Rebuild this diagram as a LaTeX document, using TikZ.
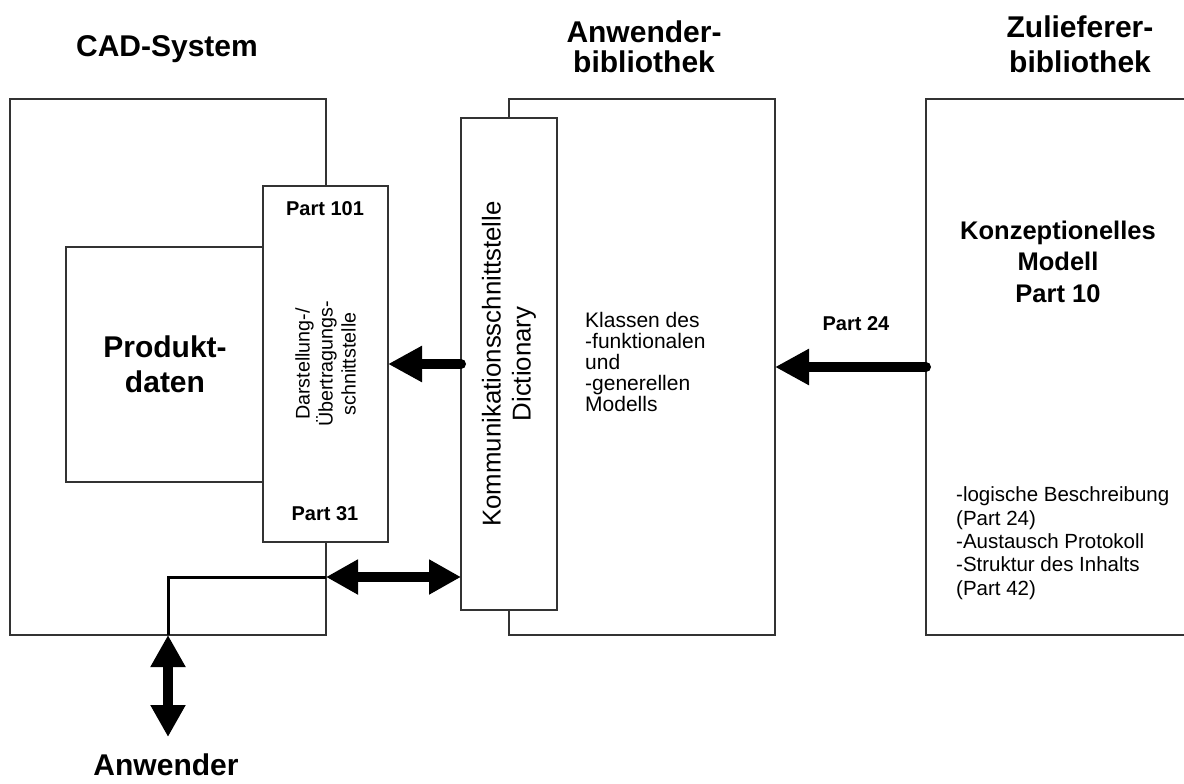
\documentclass[tikz,border=0pt]{standalone}
\usepackage{fontspec}
\setmainfont{Liberation Sans}
\usetikzlibrary{arrows.meta}
\begin{document}
\begin{tikzpicture}[x=1pt,y=-1pt,
  box/.style={draw=black!80, line width=1.3pt, fill=white, rectangle, outer sep=0pt, inner sep=0pt},
  fatarrow/.style={line width=10pt, line cap=round, -{Triangle[length=34pt,width=34pt]}},
  fatdouble/.style={line width=10pt, {Triangle[length=32pt,width=33pt]}-{Triangle[length=32pt,width=33pt]}},
  wire/.style={line width=3pt, black},
  title/.style={font=\fontsize{30}{31}\selectfont\bfseries, align=center, inner sep=0pt},
  label/.style={font=\fontsize{20}{23}\selectfont\bfseries, align=center, inner sep=0pt},
  plain/.style={inner sep=0pt}]
\useasboundingbox (0,0) rectangle (1184,784);

% outer system boxes
\node[box, minimum width=316pt, minimum height=536pt] (cad) at (168,367) {};
\node[box, minimum width=234pt, minimum height=235pt] (prod) at (183,364.5) {};
\node[box, minimum width=125pt, minimum height=356pt] (darst) at (325.5,364) {};
\node[box, minimum width=266pt, minimum height=536pt] (anw) at (642,367) {};
\node[box, minimum width=96pt, minimum height=492pt] (komm) at (509,364) {};
\node[box, minimum width=259pt, minimum height=536pt] (zul) at (1055.5,367) {};

% headings (multi-line nodes are placed by the baseline of their last line)
\node[title, anchor=base] (tcad) at (167,57) {CAD-System};
\node[title, anchor=base, font=\fontsize{30}{30}\selectfont\bfseries] (tanw) at (644,73) {Anwender-\\bibliothek};
\node[title, anchor=base, font=\fontsize{30}{35}\selectfont\bfseries] (tzul) at (1080,73) {Zulieferer-\\bibliothek};
\node[title, anchor=base] (tuser) at (166,775) {Anwender};

% inner texts
\node[plain, anchor=base, align=center, font=\fontsize{30}{35}\selectfont\bfseries] (tprod) at (165,392) {Produkt-\\daten};
\node[label, anchor=base] (p101) at (325,215) {Part 101};
\node[label, anchor=base] (p31) at (325,520) {Part 31};
\node[plain, rotate=90, align=center, font=\fontsize{19.7}{23}\selectfont] (tdarst) at (darst.center) {Darstellung-/\\Übertragungs-\\schnittstelle};
\node[plain, rotate=90, align=center, font=\fontsize{25.8}{30}\selectfont] (tkomm) at (komm.center) {Kommunikationsschnittstelle\\Dictionary};
\node[plain, anchor=base west, align=left, font=\fontsize{21}{21}\selectfont] (tklassen) at (585,411) {Klassen des\\-funktionalen\\und\\-generellen\\Modells};
\node[label, anchor=base] (p24) at (856,330) {Part 24};
\node[plain, anchor=base, align=center, font=\fontsize{25.5}{31.5}\selectfont\bfseries] (tkonz) at (1058,302) {Konzeptionelles\\Modell\\Part 10};
\node[plain, anchor=base west, align=left, font=\fontsize{20.5}{23.3}\selectfont] (tlist) at (956,595) {-logische Beschreibung\\(Part 24)\\-Austausch Protokoll\\-Struktur des Inhalts\\(Part 42)};

% connectors
\draw[fatarrow] (komm.west) -- (darst.east);
\draw[fatarrow] (zul.west) -- (anw.east);
\coordinate (junction) at (cad.east |- 0,577);
\coordinate (foot) at (168,635);
\coordinate (userend) at (168,737);
\draw[wire] (junction) -| (foot);
\draw[fatdouble] (junction) -- (komm.west |- junction);
\draw[fatdouble] (foot) -- (userend);
\end{tikzpicture}
\end{document}
